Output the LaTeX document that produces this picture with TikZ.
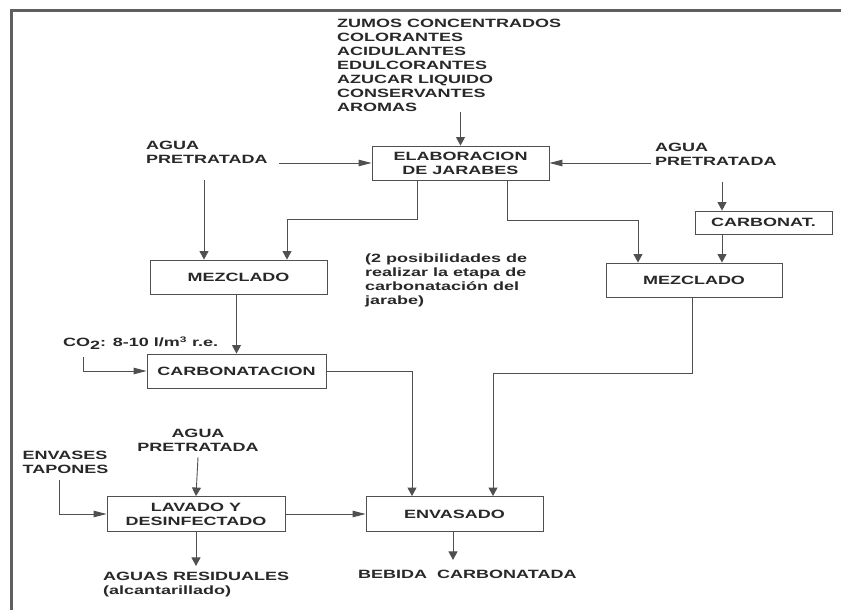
\documentclass[tikz,border=0pt]{standalone}
\usepackage{fontspec}
\setmainfont{Liberation Sans}[FakeStretch=1.5]
\usetikzlibrary{arrows.meta}

\definecolor{ink}{RGB}{40,40,40}
\definecolor{rulegray}{RGB}{80,80,80}
\definecolor{framegray}{RGB}{95,95,95}

\tikzset{
  every node/.style={text=ink, font=\fontsize{12}{13.9}\selectfont\bfseries},
  stage/.style={draw=rulegray, line width=0.9pt, minimum height=34pt, inner sep=0pt, align=center},
  txt/.style={inner sep=0pt, align=left, anchor=west},
  flow/.style={draw=rulegray, line width=0.9pt},
  vfeed/.style={flow, -{Triangle[length=8.5pt,width=9pt]}},
  hfeed/.style={flow, -{Triangle[length=13pt,width=6.5pt]}},
}

\begin{document}
\begin{tikzpicture}[x=1pt, y=-1pt]
  \useasboundingbox[fill=white] (0,0) rectangle (841,610);

  % page frame (top and left edges)
  \draw[framegray, line width=3.5pt] (11.5,610) -- (11.5,10.5) -- (841,10.5);

  % process stages
  \node[stage, minimum width=177pt] (elab) at (460.5,163) {ELABORACION\\DE JARABES};
  \node[stage, minimum width=177pt] (mezL) at (238.5,277) {MEZCLADO};
  \node[stage, minimum width=176pt] (mezR) at (694,280) {MEZCLADO};
  \node[stage, minimum width=137pt, minimum height=23pt] (carb) at (763.5,222.5) {CARBONAT.};
  \node[stage, minimum width=179pt] (carbon) at (236.5,371) {CARBONATACION};
  \node[stage, minimum width=178pt, minimum height=35pt] (lav) at (196,514) {LAVADO Y\\DESINFECTADO};
  \node[stage, minimum width=177pt, minimum height=35pt] (env) at (454.5,514) {ENVASADO};

  % inputs, outputs and notes
  \node[txt] (ingr) at (337,65.5) {ZUMOS CONCENTRADOS\\COLORANTES\\ACIDULANTES\\EDULCORANTES\\AZUCAR LIQUIDO\\CONSERVANTES\\AROMAS};
  \node[txt] (aguaL) at (146,152) {AGUA\\PRETRATADA};
  \node[txt] (aguaR) at (655,154) {AGUA\\PRETRATADA};
  \node[txt] (nota) at (365,280.5) {(2 posibilidades de\\realizar la etapa de\\carbonatación del\\jarabe)};
  \node[txt] (co2) at (63,343) {CO\raisebox{-2.5pt}{2}: 8-10 l/m\textsuperscript{3} r.e.};
  \node[inner sep=0pt, align=center] (aguaC) at (198,440) {AGUA\\PRETRATADA};
  \node[txt] (envases) at (22.5,462.5) {ENVASES\\TAPONES};
  \node[txt] (bebida) at (358,574) {BEBIDA\ \ CARBONATADA};
  \node[txt] (aguas) at (103,584.5) {AGUAS RESIDUALES\\(alcantarillado)};

  % free ends of the feed lines
  \coordinate (aguaLout) at (279,163);
  \coordinate (aguaRout) at (651,163);
  \coordinate (aguaLdown) at (204,180);
  \coordinate (aguaRdown) at (722,182);
  \coordinate (co2in) at (83,357);
  \coordinate (envin) at (59,480);

  % syrup preparation
  \draw[vfeed] (elab.north |- ingr.south) -- (elab.north);
  \draw[hfeed] (aguaLout) -- (elab.west);
  \draw[hfeed] (aguaRout) -- (elab.east);

  % route 1: mix then carbonate
  \draw[vfeed] (aguaLdown) -- (aguaLdown |- mezL.north);
  \draw[vfeed] ([xshift=-43.5pt]elab.south) -- ++(0,39) -| ([xshift=48.5pt]mezL.north);
  \draw[vfeed] (mezL.south -| carbon.north) -- (carbon.north);
  \draw[hfeed] (co2in) |- (carbon.west);
  \draw[vfeed] (carbon.east) -| ([xshift=-42.5pt]env.north);

  % route 2: carbonate the water then mix
  \draw[vfeed] (aguaRdown) -- (aguaRdown |- carb.north);
  \draw[vfeed] (carb.south -| aguaRdown) -- (mezR.north -| aguaRdown);
  \draw[vfeed] ([xshift=46.5pt]elab.south) -- ++(0,40) -| ([xshift=-56pt]mezR.north);
  \draw[vfeed] ([xshift=-2pt]mezR.south) -- ++(0,76) -| ([xshift=38.5pt]env.north);

  % bottle washing and filling
  \draw[vfeed] ([yshift=-6pt]aguaC.south) -- (lav.north);
  \draw[hfeed] (envin) |- (lav.west);
  \draw[hfeed] (lav.east) -- (env.west);
  \draw[vfeed] ([xshift=-1.5pt]env.south) -- ++(0,28);
  \draw[vfeed] (lav.south) -- ++(0,34);
\end{tikzpicture}
\end{document}
